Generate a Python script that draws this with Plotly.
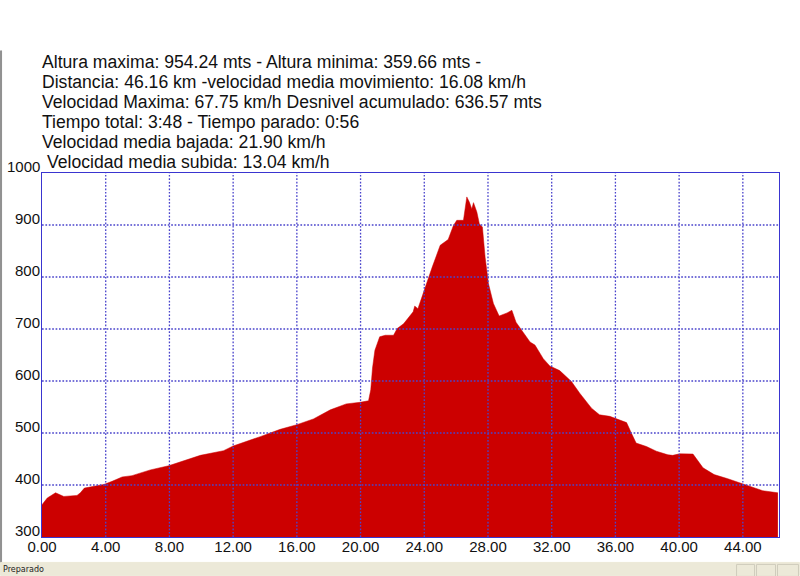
import plotly.graph_objects as go

W, H = 800, 576
L, R, T, B = 41.5, 779.5, 172.5, 537.5

km = [0, 0.33, 0.85, 1.37, 2.2, 2.41, 2.66, 3.88, 4.4, 5.03, 5.65, 6.8, 7.95, 8.9, 9.94, 11.4,
      12.0, 13.7, 14.95, 16.0, 17.04, 18.1, 19.1, 19.97, 20.5, 20.64, 20.75, 20.9, 21.2, 21.55, 22.07, 22.3,
      22.7, 23.3, 23.4, 23.6, 24.05, 24.5, 25.0, 25.5, 25.83, 26.04, 26.46, 26.67, 26.83, 26.98, 27.09, 27.3, 27.46,
      27.65, 27.82, 28.03, 28.34, 28.7, 29.2, 29.5, 29.76, 30.2, 30.64, 30.95, 31.47, 31.88, 32.5, 33.24, 33.76,
      34.5, 35.0, 35.65, 36.06, 36.7, 37.0, 37.3, 37.95, 38.57, 39.3, 39.6, 40.03, 40.87, 41.5, 42.2, 43.06, 44.0, 45.25, 46.2]
alt = [362, 375, 385, 378, 380, 385, 394, 401, 407, 415.5, 418, 429, 437, 447, 457, 466,
       475, 493, 507, 516, 527, 544.5, 556, 559, 562, 583, 625, 659, 685, 688, 688, 701,
       710, 733, 744, 739, 781, 819, 861, 872, 899, 909, 909, 954, 944, 931, 943, 925, 902,
       896, 838, 787, 749, 725, 731, 736, 713, 694, 675, 669, 643, 629, 620, 599, 576.5,
       547.7, 535, 532, 527, 520, 500, 480.6, 474, 465, 458, 457, 460, 459.5, 433, 420, 412, 402, 389, 385]

x_ticks = [0, 4, 8, 12, 16, 20, 24, 28, 32, 36, 40, 44]
y_ticks = [300, 400, 500, 600, 700, 800, 900, 1000]
info_lines = [
    "Altura maxima: 954.24 mts - Altura minima: 359.66 mts -",
    "Distancia: 46.16 km -velocidad media movimiento: 16.08 km/h",
    "Velocidad Maxima: 67.75 km/h Desnivel acumulado: 636.57 mts",
    "Tiempo total: 3:48 - Tiempo parado: 0:56",
    "Velocidad media bajada: 21.90 km/h",
    "Velocidad media subida: 13.04 km/h",
]
info_y = [61.3, 81.5, 101.5, 121.5, 141.5, 161.7]
info_x = [42, 42, 42, 41.5, 42, 47]

FONT = "Liberation Sans, Arial, sans-serif"
GRID = "#4a44cc"
XMAX = 46.27

fig = go.Figure(go.Scatter(x=km, y=alt, mode="lines", fill="tozeroy", fillcolor="#cc0000",
                           line=dict(color="#cc0000", width=0.5), hoverinfo="skip"))

shapes = []
for t in x_ticks[1:]:
    shapes.append(dict(type="line", xref="x", yref="y", x0=t, x1=t, y0=300, y1=1000, layer="above",
                       line=dict(color=GRID, width=1.3, dash="1.7px,1.7px")))
for t in y_ticks[1:-1]:
    shapes.append(dict(type="line", xref="x", yref="y", x0=0, x1=XMAX, y0=t, y1=t, layer="above",
                       line=dict(color=GRID, width=1.3, dash="1.7px,1.7px")))

ax = lambda v: (v - L) / (R - L)
ay = lambda v: (B - v) / (B - T)
def rect(x0, y0, x1, y1, fill, line=None):
    return dict(type="rect", xref="paper", yref="paper", x0=ax(x0), x1=ax(x1), y0=ay(y0), y1=ay(y1),
                fillcolor=fill, line=dict(color=line or fill, width=1), layer="below")
shapes.append(rect(0, 50, 1, 563, "#8f8f8f"))
shapes.append(rect(0, 563, 800, 576, "#ece9d8"))
for a, b in [(737, 755), (757, 776), (778, 799)]:
    shapes.append(rect(a, 565, b, 577, "#ece9d8", "#cfccbc"))

anns = []
for s, xp, yp in zip(info_lines, info_x, info_y):
    anns.append(dict(text=s, xref="paper", yref="paper", x=ax(xp), y=ay(yp), xanchor="left", yanchor="middle",
                     showarrow=False, font=dict(family=FONT, size=17.6, color="#111111"), borderpad=0, borderwidth=0))
for t in y_ticks:
    anns.append(dict(text=str(t), xref="paper", yref="y", x=ax(40.5), y=t, yshift=6.5, xanchor="right", yanchor="middle",
                     showarrow=False, font=dict(family=FONT, size=15, color="#111111"), borderpad=0))
anns.append(dict(text="Preparado", xref="paper", yref="paper", x=ax(1), y=ay(570), xanchor="left", yanchor="middle",
                 showarrow=False, font=dict(family="DejaVu Sans", size=8, color="#222222"), borderpad=0))

fig.update_layout(
    width=W, height=H, margin=dict(l=L, r=W - R, t=T, b=H - B, pad=0, autoexpand=False),
    paper_bgcolor="white", plot_bgcolor="white", showlegend=False,
    shapes=shapes, annotations=anns,
    font=dict(family=FONT, size=15, color="#111111"),
    xaxis=dict(range=[0, XMAX], tickvals=x_ticks, ticktext=[f"{t:.2f}" for t in x_ticks], showgrid=False,
               showline=True, linecolor="#3a35d0", linewidth=1, mirror=True, ticks="", zeroline=False,
               automargin=False, ticklabelstandoff=-4, layer="above traces"),
    yaxis=dict(range=[300, 1000], tickvals=y_ticks, showticklabels=False, showgrid=False,
               showline=True, linecolor="#3a35d0", linewidth=1, mirror=True, ticks="", zeroline=False,
               automargin=False, layer="above traces"),
)
fig.write_html("out.html", config=dict(displayModeBar=False),
               post_script="document.body.style.margin='0';document.documentElement.style.overflow='hidden';")
